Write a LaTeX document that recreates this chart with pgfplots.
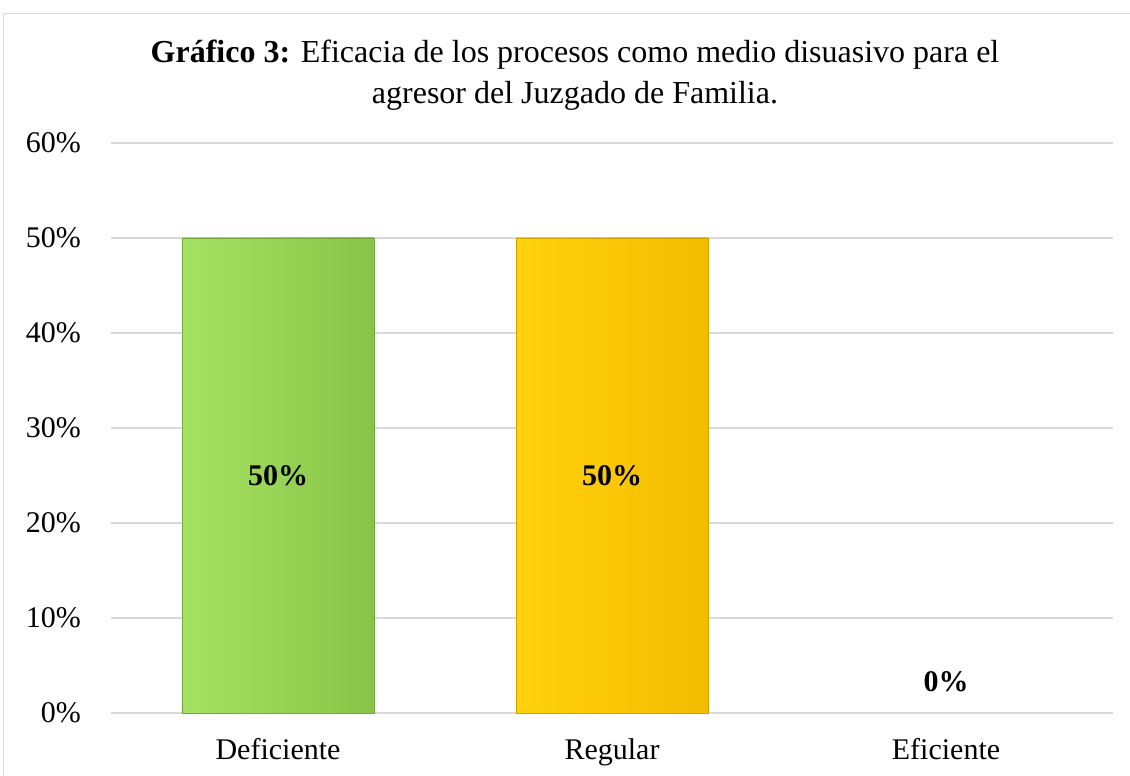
\documentclass[border=0pt]{standalone}
\usepackage{pgfplots}
\pgfplotsset{compat=1.18}
\usepackage{fontspec}
\setmainfont{Liberation Serif}
\definecolor{gmid}{HTML}{9DDA57}
\definecolor{gleft}{HTML}{A6E262}
\definecolor{gright}{HTML}{88C447}
\definecolor{gline}{HTML}{74A83C}
\definecolor{ymid}{HTML}{FFCB00}
\definecolor{yleft}{HTML}{FFD20C}
\definecolor{yright}{HTML}{F3BC00}
\definecolor{yline}{HTML}{D0A400}
\definecolor{gridc}{HTML}{D9D9D9}
\begin{document}
\fontsize{30}{37}\selectfont
\begin{tikzpicture}
\useasboundingbox (0pt,0pt) rectangle (1130pt,776pt);
\draw[gridc, line width=1.3pt] (3.5pt,-10pt) rectangle (1145pt,762.5pt);
\node[anchor=base, inner sep=0pt, font=\fontsize{32}{39}\selectfont] at (575pt,713pt) {\textbf{Gráfico 3:} Eficacia de los procesos como medio disuasivo para el};
\node[anchor=base, inner sep=0pt, font=\fontsize{32}{39}\selectfont] at (575pt,672pt) {agresor del Juzgado de Familia.};
\begin{axis}[
  at={(111pt,63pt)}, anchor=south west,
  scale only axis, width=1002pt, height=570pt,
  xmin=-0.5, xmax=2.5, ymin=0, ymax=60,
  ytick={0,10,...,60},
  xtick={0,1,2},
  xticklabels={Deficiente,Regular,Eficiente},
  ymajorgrids,
  grid style={draw=gridc, line width=1.3pt},
  axis line style={draw=none},
  major tick length=0pt,
  tick label style={font=\fontsize{30}{36}\selectfont},
  /pgf/number format/assume math mode=true,
  yticklabel={\pgfmathprintnumber{\tick}\%},
  yticklabel style={anchor=east, inner sep=0pt, xshift=-30pt},
  xticklabel style={anchor=base, inner sep=0pt, yshift=-47pt},
  ybar, bar width=192pt, bar shift=0pt,
  clip=false,
]
\addplot[draw=gline, line width=0.8pt, left color=gleft, middle color=gmid, right color=gright] coordinates {(0,50)};
\addplot[draw=yline, line width=0.8pt, left color=yleft, middle color=ymid, right color=yright] coordinates {(1,50)};
\addplot[draw=none, fill=none] coordinates {(2,0)};
\node[font=\bfseries\fontsize{30}{36}\selectfont] at (axis cs:0,25) {50\%};
\node[font=\bfseries\fontsize{30}{36}\selectfont] at (axis cs:1,25) {50\%};
\node[font=\bfseries\fontsize{30}{36}\selectfont] at (axis cs:2,3.3) {0\%};
\end{axis}
\end{tikzpicture}
\end{document}
